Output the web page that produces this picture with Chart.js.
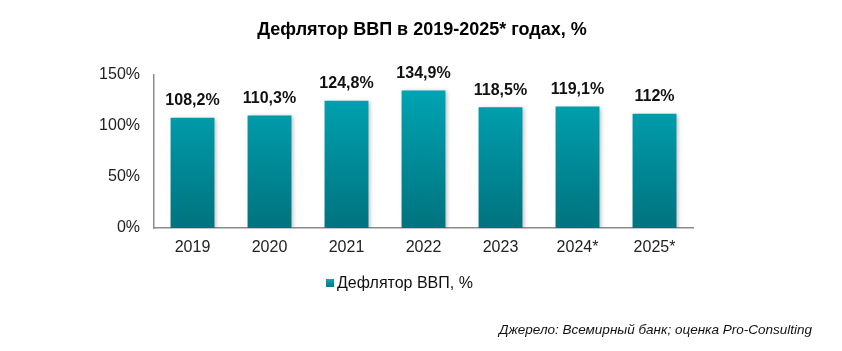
<!DOCTYPE html>
<html>
<head>
<meta charset="utf-8">
<script src="https://cdn.jsdelivr.net/npm/chart.js@4"></script>
<style>
    html, body { margin: 0; padding: 0; background: #fff; }
    #wrap { width: 842px; height: 351px; position: relative; }
</style>
</head>
<body>
<div id="wrap"><canvas id="deflatorChart" width="842" height="351"></canvas></div>
<script>
const years = ['2019', '2020', '2021', '2022', '2023', '2024*', '2025*'];
const deflator = [108.2, 110.3, 124.8, 134.9, 118.5, 119.1, 112];
const valueLabels = ['108,2%', '110,3%', '124,8%', '134,9%', '118,5%', '119,1%', '112%'];
const yTicks = [0, 50, 100, 150];

const titleText = 'Дефлятор ВВП в 2019-2025* годах, %';
const legendText = 'Дефлятор ВВП, %';
const sourceText = 'Джерело: Всемирный банк; оценка Pro-Consulting';

const FONT = '"Liberation Sans", Arial, sans-serif';

function barGradient(context) {
    const area = context.chart.chartArea;
    if (!area) return '#009aa8';
    const g = context.chart.ctx.createLinearGradient(0, area.top, 0, area.bottom);
    g.addColorStop(0, '#00a9b9');
    g.addColorStop(1, '#00737e');
    return g;
}

// shadow under bars, value labels, title, legend and source text
const extrasPlugin = {
    id: 'extras',
    beforeDatasetsDraw(chart) {
        const ctx = chart.ctx;
        ctx.save();
        ctx.shadowColor = 'rgba(0,0,0,0.25)';
        ctx.shadowBlur = 4;
        ctx.shadowOffsetX = 2;
        ctx.shadowOffsetY = 1;
    },
    afterDatasetsDraw(chart) {
        const ctx = chart.ctx;
        ctx.restore();
        ctx.save();
        const meta = chart.getDatasetMeta(0);
        ctx.fillStyle = '#111';
        ctx.font = 'bold 16px ' + FONT;
        ctx.textAlign = 'center';
        ctx.textBaseline = 'bottom';
        meta.data.forEach((bar, i) => {
            ctx.fillText(valueLabels[i], bar.x, bar.y - 9);
        });
        ctx.restore();
    },
    afterDraw(chart) {
        const ctx = chart.ctx;
        ctx.save();
        ctx.fillStyle = '#000';
        ctx.textBaseline = 'middle';

        // title
        ctx.font = 'bold 18px ' + FONT;
        ctx.textAlign = 'center';
        ctx.fillText(titleText, 422, 30);

        // legend
        const grad = ctx.createLinearGradient(0, 279, 0, 288);
        grad.addColorStop(0, '#00a9b9');
        grad.addColorStop(1, '#00737e');
        ctx.fillStyle = grad;
        ctx.fillRect(326, 279, 8, 8);
        ctx.fillStyle = '#111';
        ctx.font = '16px ' + FONT;
        ctx.textAlign = 'left';
        ctx.fillText(legendText, 337, 284);

        // source
        ctx.font = 'italic 13.5px ' + FONT;
        ctx.textAlign = 'right';
        ctx.fillText(sourceText, 812, 330);
        ctx.restore();
    }
};

new Chart(document.getElementById('deflatorChart').getContext('2d'), {
    type: 'bar',
    data: {
        labels: years,
        datasets: [{
            label: legendText,
            data: deflator,
            backgroundColor: barGradient,
            borderWidth: 0,
            categoryPercentage: 1,
            barPercentage: 0.57
        }]
    },
    options: {
        responsive: false,
        animation: false,
        events: [],
        layout: {
            padding: { top: 75, left: 84, right: 149, bottom: 93 }
        },
        plugins: {
            legend: { display: false },
            title: { display: false },
            tooltip: { enabled: false }
        },
        scales: {
            x: {
                grid: { display: false, drawTicks: false },
                border: { color: '#8c8c8c', width: 1.5 },
                ticks: {
                    color: '#222',
                    font: { family: FONT, size: 16 },
                    padding: 10,
                    maxRotation: 0
                },
                afterFit(scale) { scale.height = 30; }
            },
            y: {
                min: 0,
                max: 150,
                grid: { display: false, drawTicks: false },
                border: { color: '#8c8c8c', width: 1.5 },
                afterBuildTicks(scale) {
                    scale.ticks = yTicks.map(v => ({ value: v }));
                },
                ticks: {
                    color: '#222',
                    font: { family: FONT, size: 16 },
                    padding: 14,
                    callback: v => v + '%'
                },
                afterFit(scale) { scale.width = 70; }
            }
        }
    },
    plugins: [extrasPlugin]
});
</script>
</body>
</html>
